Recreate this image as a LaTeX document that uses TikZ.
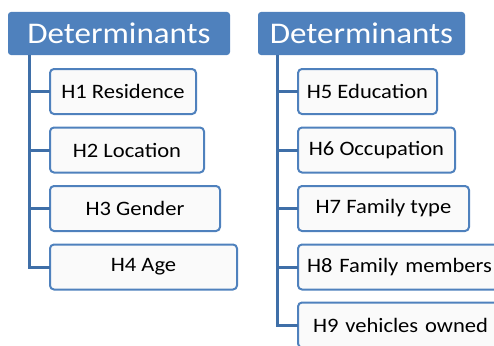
\documentclass[tikz,border=0pt]{standalone}
\usepackage{fontspec}
\setmainfont{Carlito}[FakeStretch=1.1]
\usepackage{tikz}
\usetikzlibrary{calc,positioning}
\definecolor{hdblue}{HTML}{4F81BD}
\definecolor{trunkblue}{HTML}{3F6FA8}
\definecolor{boxfill}{HTML}{FAFAFA}
\tikzset{
  head/.style={rectangle,fill=hdblue,rounded corners=3pt,text=white,
    minimum height=43pt,inner sep=0pt,outer sep=0pt,
    font=\fontsize{30}{34}\selectfont},
  hbox/.style={draw=hdblue,line width=2pt,rectangle,rounded corners=4pt,
    fill=boxfill,text=black,minimum height=45pt,inner sep=0pt,outer sep=0pt,
    font=\fontsize{20.5}{24}\selectfont},
  widebox/.style={hbox,anchor=west,align=left,text width=200pt}
}
\tikzset{trunk/.style={draw=trunkblue,line width=3pt}}
\begin{document}
\begin{tikzpicture}[x=1pt,y=-1pt]
  \useasboundingbox (0,0) rectangle (494,345);
  \clip (0,0) rectangle (494,345);
  % headers
  \node at (119,33.5) (L) [head,minimum width=222pt]{Determinants};
  \node at (361.5,33.5) (R) [head,minimum width=207pt]{Determinants};
  % left column
  \node at (123,91.5) (H1) [hbox,minimum width=146pt]{H1 Residence};
  \node at (127,150) (H2) [hbox,minimum width=154pt]{H2 Location};
  \node at (135,208.5) (H3) [hbox,minimum width=170pt]{H3 Gender};
  \node at (143.5,267) (H4) [hbox,minimum width=187pt]{H4 Age};
  % right column
  \node at (367.5,91.5) (H5) [hbox,minimum width=139pt]{H5 Education};
  \node at (376.5,150) (H6) [hbox,minimum width=157pt]{H6 Occupation};
  \node at (383.5,208.5) (H7) [hbox,minimum width=171pt]{H7 Family type};
  \node at (298,267) (H8) [widebox,inner xsep=9pt]{H8 Family members};
  \node at (298,325) (H9) [widebox,inner xsep=15pt]{H9 vehicles owned};
  % trunks
  \coordinate (tl) at (29,55);
  \coordinate (tr) at (277,55);
  \draw[trunk] (tl) |- (H4.west);
  \draw[trunk] (tl |- H1) -- (H1.west);
  \draw[trunk] (tl |- H2) -- (H2.west);
  \draw[trunk] (tl |- H3) -- (H3.west);
  \draw[trunk] (tr) |- (H9.west);
  \draw[trunk] (tr |- H5) -- (H5.west);
  \draw[trunk] (tr |- H6) -- (H6.west);
  \draw[trunk] (tr |- H7) -- (H7.west);
  \draw[trunk] (tr |- H8) -- (H8.west);
\end{tikzpicture}
\end{document}
